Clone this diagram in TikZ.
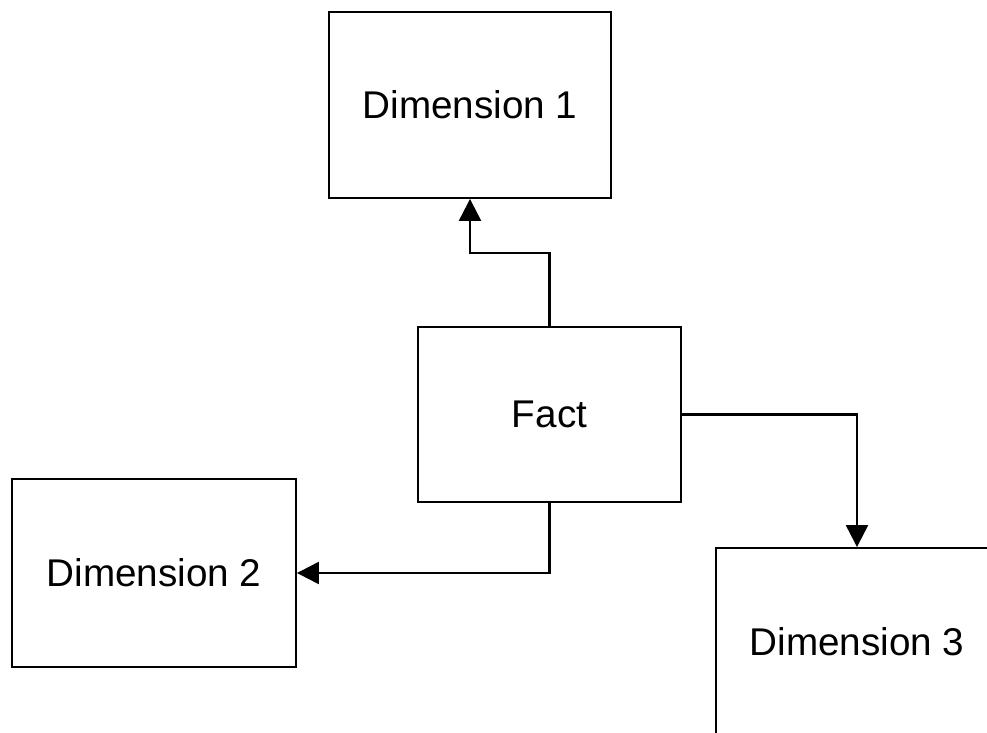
\documentclass[tikz,border=0pt]{standalone}
\usepackage{fontspec}
\setmainfont{Liberation Sans}
\usetikzlibrary{arrows.meta}

\begin{document}
\begin{tikzpicture}[
    x=0.02cm, y=-0.02cm,
    box/.style={draw, line width=1.1pt, inner sep=0pt,
      font=\fontsize{22}{26}\selectfont},
    link/.style={draw, line width=1.3pt, ->},
    >={Triangle[length=0.44cm, width=0.44cm]}
    ]
    \useasboundingbox (0,0) rectangle (987,733);
    \clip (0,0) rectangle (987,733);

    % Tables
    \node[box, minimum width=5.64cm, minimum height=3.72cm] (dim1) at (470,105) {Dimension 1};
    \node[box, minimum width=5.26cm, minimum height=3.5cm] (fact) at (549.5,414.5) {Fact};
    \node[box, minimum width=5.68cm, minimum height=3.76cm] (dim2) at (154,573) {Dimension 2};
    \node[box, minimum width=5.64cm, minimum height=3.76cm] (dim3) at (857,642) {Dimension 3};

    % Links
    \draw[link] (fact.north) -- ++(0,-73) -| (dim1.south);
    \draw[link] (fact.east) -| (dim3.north);
    \draw[link] (fact.south) |- (dim2.east);
\end{tikzpicture}
\end{document}
